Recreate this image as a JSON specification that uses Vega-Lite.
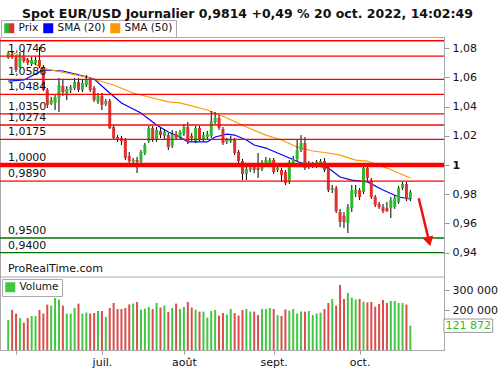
{
"$schema": "https://vega.github.io/schema/vega-lite/v6.json",
"width": 444, "height": 313,
"autosize": {"type": "none"},
"padding": {"left": 0, "top": 37, "right": 56, "bottom": 20},
"background": "white",
"config": {"font": "DejaVu Sans", "view": {"stroke": "#aaaaaa"}, "axis": {"labelFont": "DejaVu Sans", "labelFontSize": 11, "labelColor": "#111111", "grid": false, "domainColor": "#aaaaaa", "tickColor": "#999999"}},
"title": {"text": "Spot EUR/USD Journalier 0,9814 +0,49 % 20 oct. 2022, 14:02:49", "anchor": "start", "frame": "group", "dx": 22, "offset": -10.5, "fontSize": 12.5, "fontWeight": "bold", "font": "DejaVu Sans", "color": "#111111", "baseline": "alphabetic"},
"datasets": {
"bars": [
{"date":"2022-05-30","i":0,"o":1.0733,"h":1.0781,"l":1.0726,"c":1.0767,"v":150000},
{"date":"2022-05-31","i":1,"o":1.0760,"h":1.0774,"l":1.0726,"c":1.0740,"v":200000},
{"date":"2022-06-01","i":2,"o":1.0740,"h":1.0753,"l":1.0637,"c":1.0651,"v":182000},
{"date":"2022-06-02","i":3,"o":1.0671,"h":1.0774,"l":1.0664,"c":1.0747,"v":160000},
{"date":"2022-06-03","i":4,"o":1.0740,"h":1.0788,"l":1.0699,"c":1.0712,"v":137000},
{"date":"2022-06-06","i":5,"o":1.0719,"h":1.0733,"l":1.0685,"c":1.0699,"v":160000},
{"date":"2022-06-07","i":6,"o":1.0692,"h":1.0740,"l":1.0678,"c":1.0719,"v":170000},
{"date":"2022-06-08","i":7,"o":1.0699,"h":1.0740,"l":1.0685,"c":1.0719,"v":170000},
{"date":"2022-06-09","i":8,"o":1.0719,"h":1.0808,"l":1.0664,"c":1.0678,"v":200000},
{"date":"2022-06-10","i":9,"o":1.0671,"h":1.0685,"l":1.0507,"c":1.0514,"v":182000},
{"date":"2022-06-13","i":10,"o":1.0514,"h":1.0527,"l":1.0390,"c":1.0411,"v":227000},
{"date":"2022-06-14","i":11,"o":1.0418,"h":1.0466,"l":1.0411,"c":1.0445,"v":222000},
{"date":"2022-06-15","i":12,"o":1.0425,"h":1.0479,"l":1.0377,"c":1.0466,"v":260000},
{"date":"2022-06-16","i":13,"o":1.0459,"h":1.0596,"l":1.0363,"c":1.0548,"v":252000},
{"date":"2022-06-17","i":14,"o":1.0541,"h":1.0582,"l":1.0473,"c":1.0500,"v":222000},
{"date":"2022-06-20","i":15,"o":1.0479,"h":1.0541,"l":1.0445,"c":1.0521,"v":182000},
{"date":"2022-06-21","i":16,"o":1.0514,"h":1.0548,"l":1.0493,"c":1.0534,"v":182000},
{"date":"2022-06-22","i":17,"o":1.0527,"h":1.0596,"l":1.0514,"c":1.0568,"v":210000},
{"date":"2022-06-23","i":18,"o":1.0568,"h":1.0596,"l":1.0500,"c":1.0514,"v":232000},
{"date":"2022-06-24","i":19,"o":1.0514,"h":1.0582,"l":1.0500,"c":1.0562,"v":182000},
{"date":"2022-06-27","i":20,"o":1.0548,"h":1.0616,"l":1.0534,"c":1.0582,"v":187000},
{"date":"2022-06-28","i":21,"o":1.0582,"h":1.0596,"l":1.0500,"c":1.0514,"v":182000},
{"date":"2022-06-29","i":22,"o":1.0527,"h":1.0541,"l":1.0432,"c":1.0445,"v":185000},
{"date":"2022-06-30","i":23,"o":1.0432,"h":1.0493,"l":1.0418,"c":1.0473,"v":195000},
{"date":"2022-07-01","i":24,"o":1.0473,"h":1.0493,"l":1.0377,"c":1.0411,"v":195000},
{"date":"2022-07-04","i":25,"o":1.0418,"h":1.0452,"l":1.0404,"c":1.0438,"v":165000},
{"date":"2022-07-05","i":26,"o":1.0438,"h":1.0452,"l":1.0247,"c":1.0253,"v":210000},
{"date":"2022-07-06","i":27,"o":1.0260,"h":1.0274,"l":1.0171,"c":1.0185,"v":235000},
{"date":"2022-07-07","i":28,"o":1.0192,"h":1.0205,"l":1.0158,"c":1.0171,"v":205000},
{"date":"2022-07-08","i":29,"o":1.0185,"h":1.0199,"l":1.0137,"c":1.0164,"v":205000},
{"date":"2022-07-11","i":30,"o":1.0171,"h":1.0185,"l":1.0034,"c":1.0048,"v":210000},
{"date":"2022-07-12","i":31,"o":1.0062,"h":1.0089,"l":1.0014,"c":1.0027,"v":228000},
{"date":"2022-07-13","i":32,"o":1.0021,"h":1.0048,"l":1.0014,"c":1.0034,"v":232000},
{"date":"2022-07-14","i":33,"o":1.0034,"h":1.0055,"l":0.9945,"c":1.0021,"v":240000},
{"date":"2022-07-15","i":34,"o":1.0021,"h":1.0103,"l":1.0007,"c":1.0089,"v":202000},
{"date":"2022-07-18","i":35,"o":1.0082,"h":1.0151,"l":1.0068,"c":1.0137,"v":207000},
{"date":"2022-07-19","i":36,"o":1.0164,"h":1.0267,"l":1.0151,"c":1.0253,"v":215000},
{"date":"2022-07-20","i":37,"o":1.0253,"h":1.0267,"l":1.0158,"c":1.0171,"v":205000},
{"date":"2022-07-21","i":38,"o":1.0171,"h":1.0260,"l":1.0158,"c":1.0240,"v":235000},
{"date":"2022-07-22","i":39,"o":1.0233,"h":1.0253,"l":1.0185,"c":1.0205,"v":212000},
{"date":"2022-07-25","i":40,"o":1.0199,"h":1.0247,"l":1.0171,"c":1.0226,"v":222000},
{"date":"2022-07-26","i":41,"o":1.0205,"h":1.0219,"l":1.0103,"c":1.0123,"v":190000},
{"date":"2022-07-27","i":42,"o":1.0130,"h":1.0240,"l":1.0116,"c":1.0212,"v":210000},
{"date":"2022-07-28","i":43,"o":1.0212,"h":1.0233,"l":1.0171,"c":1.0185,"v":232000},
{"date":"2022-07-29","i":44,"o":1.0192,"h":1.0240,"l":1.0178,"c":1.0226,"v":205000},
{"date":"2022-08-01","i":45,"o":1.0212,"h":1.0281,"l":1.0199,"c":1.0260,"v":215000},
{"date":"2022-08-02","i":46,"o":1.0260,"h":1.0295,"l":1.0144,"c":1.0158,"v":240000},
{"date":"2022-08-03","i":47,"o":1.0199,"h":1.0219,"l":1.0164,"c":1.0185,"v":212000},
{"date":"2022-08-04","i":48,"o":1.0164,"h":1.0267,"l":1.0151,"c":1.0253,"v":202000},
{"date":"2022-08-05","i":49,"o":1.0253,"h":1.0267,"l":1.0164,"c":1.0178,"v":192000},
{"date":"2022-08-08","i":50,"o":1.0178,"h":1.0226,"l":1.0164,"c":1.0205,"v":192000},
{"date":"2022-08-09","i":51,"o":1.0192,"h":1.0233,"l":1.0178,"c":1.0212,"v":162000},
{"date":"2022-08-10","i":52,"o":1.0199,"h":1.0370,"l":1.0185,"c":1.0301,"v":195000},
{"date":"2022-08-11","i":53,"o":1.0295,"h":1.0363,"l":1.0281,"c":1.0322,"v":200000},
{"date":"2022-08-12","i":54,"o":1.0322,"h":1.0342,"l":1.0240,"c":1.0253,"v":172000},
{"date":"2022-08-15","i":55,"o":1.0247,"h":1.0260,"l":1.0137,"c":1.0151,"v":185000},
{"date":"2022-08-16","i":56,"o":1.0158,"h":1.0185,"l":1.0144,"c":1.0171,"v":177000},
{"date":"2022-08-17","i":57,"o":1.0164,"h":1.0199,"l":1.0151,"c":1.0178,"v":205000},
{"date":"2022-08-18","i":58,"o":1.0171,"h":1.0185,"l":1.0068,"c":1.0082,"v":185000},
{"date":"2022-08-19","i":59,"o":1.0089,"h":1.0103,"l":1.0014,"c":1.0027,"v":172000},
{"date":"2022-08-22","i":60,"o":1.0027,"h":1.0041,"l":0.9897,"c":0.9938,"v":200000},
{"date":"2022-08-23","i":61,"o":0.9938,"h":1.0014,"l":0.9897,"c":0.9973,"v":205000},
{"date":"2022-08-24","i":62,"o":0.9966,"h":1.0000,"l":0.9952,"c":0.9979,"v":192000},
{"date":"2022-08-25","i":63,"o":0.9986,"h":1.0007,"l":0.9945,"c":0.9966,"v":192000},
{"date":"2022-08-26","i":64,"o":0.9979,"h":1.0082,"l":0.9911,"c":0.9966,"v":175000},
{"date":"2022-08-29","i":65,"o":0.9973,"h":1.0034,"l":0.9959,"c":1.0014,"v":205000},
{"date":"2022-08-30","i":66,"o":1.0007,"h":1.0055,"l":0.9993,"c":1.0034,"v":205000},
{"date":"2022-08-31","i":67,"o":1.0014,"h":1.0048,"l":1.0000,"c":1.0034,"v":210000},
{"date":"2022-09-01","i":68,"o":1.0034,"h":1.0048,"l":0.9938,"c":0.9952,"v":205000},
{"date":"2022-09-02","i":69,"o":0.9966,"h":0.9993,"l":0.9952,"c":0.9979,"v":175000},
{"date":"2022-09-05","i":70,"o":0.9966,"h":0.9979,"l":0.9884,"c":0.9932,"v":170000},
{"date":"2022-09-06","i":71,"o":0.9952,"h":0.9966,"l":0.9863,"c":0.9877,"v":203000},
{"date":"2022-09-07","i":72,"o":0.9884,"h":1.0034,"l":0.9870,"c":1.0021,"v":197000},
{"date":"2022-09-08","i":73,"o":1.0007,"h":1.0062,"l":0.9993,"c":1.0041,"v":205000},
{"date":"2022-09-09","i":74,"o":1.0041,"h":1.0171,"l":1.0027,"c":1.0103,"v":182000},
{"date":"2022-09-12","i":75,"o":1.0103,"h":1.0205,"l":1.0089,"c":1.0151,"v":193000},
{"date":"2022-09-13","i":76,"o":1.0151,"h":1.0192,"l":0.9966,"c":0.9979,"v":192000},
{"date":"2022-09-14","i":77,"o":0.9986,"h":1.0027,"l":0.9973,"c":1.0007,"v":195000},
{"date":"2022-09-15","i":78,"o":0.9993,"h":1.0021,"l":0.9979,"c":1.0000,"v":175000},
{"date":"2022-09-16","i":79,"o":0.9993,"h":1.0034,"l":0.9979,"c":1.0021,"v":182000},
{"date":"2022-09-19","i":80,"o":1.0000,"h":1.0041,"l":0.9986,"c":1.0027,"v":187000},
{"date":"2022-09-20","i":81,"o":1.0027,"h":1.0048,"l":0.9952,"c":0.9966,"v":205000},
{"date":"2022-09-21","i":82,"o":0.9979,"h":0.9993,"l":0.9815,"c":0.9829,"v":235000},
{"date":"2022-09-22","i":83,"o":0.9829,"h":0.9863,"l":0.9808,"c":0.9842,"v":255000},
{"date":"2022-09-23","i":84,"o":0.9842,"h":0.9856,"l":0.9671,"c":0.9685,"v":222000},
{"date":"2022-09-26","i":85,"o":0.9678,"h":0.9699,"l":0.9575,"c":0.9610,"v":325000},
{"date":"2022-09-27","i":86,"o":0.9651,"h":0.9678,"l":0.9568,"c":0.9610,"v":255000},
{"date":"2022-09-28","i":87,"o":0.9603,"h":0.9733,"l":0.9534,"c":0.9712,"v":285000},
{"date":"2022-09-29","i":88,"o":0.9705,"h":0.9863,"l":0.9678,"c":0.9829,"v":262000},
{"date":"2022-09-30","i":89,"o":0.9801,"h":0.9863,"l":0.9781,"c":0.9829,"v":252000},
{"date":"2022-10-03","i":90,"o":0.9829,"h":0.9842,"l":0.9760,"c":0.9781,"v":255000},
{"date":"2022-10-04","i":91,"o":0.9815,"h":0.9993,"l":0.9801,"c":0.9979,"v":242000},
{"date":"2022-10-05","i":92,"o":0.9979,"h":0.9993,"l":0.9890,"c":0.9911,"v":238000},
{"date":"2022-10-06","i":93,"o":0.9897,"h":0.9911,"l":0.9767,"c":0.9781,"v":240000},
{"date":"2022-10-07","i":94,"o":0.9781,"h":0.9795,"l":0.9712,"c":0.9726,"v":217000},
{"date":"2022-10-10","i":95,"o":0.9733,"h":0.9747,"l":0.9699,"c":0.9712,"v":230000},
{"date":"2022-10-11","i":96,"o":0.9712,"h":0.9733,"l":0.9671,"c":0.9685,"v":250000},
{"date":"2022-10-12","i":97,"o":0.9705,"h":0.9747,"l":0.9678,"c":0.9685,"v":235000},
{"date":"2022-10-13","i":98,"o":0.9705,"h":0.9781,"l":0.9637,"c":0.9760,"v":245000},
{"date":"2022-10-14","i":99,"o":0.9712,"h":0.9788,"l":0.9699,"c":0.9774,"v":245000},
{"date":"2022-10-17","i":100,"o":0.9747,"h":0.9856,"l":0.9733,"c":0.9842,"v":235000},
{"date":"2022-10-18","i":101,"o":0.9842,"h":0.9884,"l":0.9829,"c":0.9870,"v":235000},
{"date":"2022-10-19","i":102,"o":0.9870,"h":0.9884,"l":0.9753,"c":0.9766,"v":227000},
{"date":"2022-10-20","i":103,"o":0.9767,"h":0.9829,"l":0.9753,"c":0.9814,"v":121872}
],
"sma": [
{"series":"SMA (20)","i":0,"value":1.0575},{"series":"SMA (20)","i":4,"value":1.0582},{"series":"SMA (20)","i":9,"value":1.0651},{"series":"SMA (20)","i":14,"value":1.0644},{"series":"SMA (20)","i":19,"value":1.0610},{"series":"SMA (20)","i":22,"value":1.0589},{"series":"SMA (20)","i":26,"value":1.0493},{"series":"SMA (20)","i":29,"value":1.0425},{"series":"SMA (20)","i":34,"value":1.0356},{"series":"SMA (20)","i":38,"value":1.0274},{"series":"SMA (20)","i":41,"value":1.0226},{"series":"SMA (20)","i":44,"value":1.0192},{"series":"SMA (20)","i":46,"value":1.0158},{"series":"SMA (20)","i":51,"value":1.0158},{"series":"SMA (20)","i":53,"value":1.0192},{"series":"SMA (20)","i":56,"value":1.0212},{"series":"SMA (20)","i":58,"value":1.0205},{"series":"SMA (20)","i":61,"value":1.0171},{"series":"SMA (20)","i":63,"value":1.0137},{"series":"SMA (20)","i":66,"value":1.0116},{"series":"SMA (20)","i":69,"value":1.0082},{"series":"SMA (20)","i":72,"value":1.0048},{"series":"SMA (20)","i":75,"value":1.0014},{"series":"SMA (20)","i":78,"value":1.0000},{"series":"SMA (20)","i":82,"value":0.9979},{"series":"SMA (20)","i":85,"value":0.9918},{"series":"SMA (20)","i":88,"value":0.9897},{"series":"SMA (20)","i":92,"value":0.9884},{"series":"SMA (20)","i":96,"value":0.9829},{"series":"SMA (20)","i":100,"value":0.9781},{"series":"SMA (20)","i":103,"value":0.9767},
{"series":"SMA (50)","i":0,"value":1.0780},{"series":"SMA (50)","i":2,"value":1.0760},{"series":"SMA (50)","i":9,"value":1.0662},{"series":"SMA (50)","i":20,"value":1.0603},{"series":"SMA (50)","i":27,"value":1.0548},{"series":"SMA (50)","i":32,"value":1.0493},{"series":"SMA (50)","i":36,"value":1.0466},{"series":"SMA (50)","i":41,"value":1.0432},{"series":"SMA (50)","i":44,"value":1.0425},{"series":"SMA (50)","i":51,"value":1.0377},{"series":"SMA (50)","i":56,"value":1.0322},{"series":"SMA (50)","i":61,"value":1.0260},{"series":"SMA (50)","i":66,"value":1.0205},{"series":"SMA (50)","i":70,"value":1.0171},{"series":"SMA (50)","i":74,"value":1.0123},{"series":"SMA (50)","i":78,"value":1.0096},{"series":"SMA (50)","i":82,"value":1.0082},{"series":"SMA (50)","i":85,"value":1.0068},{"series":"SMA (50)","i":89,"value":1.0034},{"series":"SMA (50)","i":92,"value":1.0027},{"series":"SMA (50)","i":97,"value":0.9979},{"series":"SMA (50)","i":103,"value":0.9911}
],
"levels": [
{"level":1.0851,"label":""},{"level":1.0746,"label":"1,0746"},{"level":1.0586,"label":"1,0586"},{"level":1.0484,"label":"1,0484"},{"level":1.0350,"label":"1,0350"},{"level":1.0274,"label":"1,0274"},{"level":1.0175,"label":"1,0175"},{"level":1.0,"label":"1,0000"},{"level":0.9890,"label":"0,9890"},{"level":0.9500,"label":"0,9500"},{"level":0.9400,"label":"0,9400"}
]
},
"layer": [
{"data": {"name": "bars"}, "mark": {"type": "bar", "size": 2},
 "encoding": {
  "x": {"field": "i", "type": "quantitative", "scale": {"domain": [-0.826, 110.34], "nice": false, "zero": false},
   "axis": {"orient": "bottom", "title": null, "values": [2, 24, 45, 68, 90], "labelExpr": "datum.value == 24 ? 'juil.' : datum.value == 45 ? 'août' : datum.value == 68 ? 'sept.' : datum.value == 90 ? 'oct.' : ''", "tickSize": 4, "labelPadding": 2, "labelFlush": false, "labelOverlap": false, "domainColor": "#aaaaaa"}},
  "y": {"field": "v", "type": "quantitative", "scale": {"domain": [0, 365000], "range": [313, 240], "nice": false, "zero": false},
   "axis": {"orient": "right", "title": null, "values": [200000, 300000], "labelExpr": "replace(format(datum.value, ',d'), ',', ' ')", "tickSize": 5, "labelPadding": 3, "domainColor": "#aaaaaa"}},
  "color": {"condition": {"test": "datum.c >= datum.o", "value": "#40c840"}, "value": "#dc4c4c"}
 }},
{"data": {"name": "levels"}, "mark": {"type": "rule"},
 "encoding": {
  "y": {"field": "level", "type": "quantitative", "scale": {"domain": [0.92329, 1.08767], "range": [240, 0], "nice": false, "zero": false},
   "axis": {"orient": "right", "title": null, "values": [0.94, 0.96, 0.98, 1, 1.02, 1.04, 1.06, 1.08], "labelExpr": "datum.value > 0.999 && datum.value < 1.001 ? '1' : replace(format(datum.value, '.2f'), '.', ',')", "labelFontWeight": {"condition": {"test": "datum.value > 0.999 && datum.value < 1.001", "value": "bold"}, "value": "normal"}, "tickSize": 5, "labelPadding": 3, "domainColor": "#aaaaaa"}},
  "color": {"value": "#ffffff"},
  "opacity": {"value": 0}
 }},
{"data": {"name": "sma"}, "mark": {"type": "line", "strokeWidth": 1.2},
 "encoding": {
  "x": {"field": "i", "type": "quantitative", "scale": {"domain": [-0.826, 110.34], "nice": false, "zero": false}},
  "y": {"field": "value", "type": "quantitative", "scale": {"domain": [0.92329, 1.08767], "range": [240, 0], "nice": false, "zero": false}, "axis": null},
  "color": {"field": "series", "type": "nominal", "scale": {"domain": ["Prix", "SMA (20)", "SMA (50)"], "range": ["#2eb82e", "#0000ff", "#ff9900"]},
   "legend": {"orient": "none", "legendX": 1, "legendY": -17, "direction": "horizontal", "title": null, "symbolType": "square", "symbolSize": 100, "labelFontSize": 10.5, "labelFont": "DejaVu Sans", "labelColor": "#111111", "strokeColor": "#aaaaaa", "padding": 3, "columnPadding": 4, "gridAlign": "none", "labelOffset": 4,
    "encode": {"symbols": {"update": {"fill": [{"test": "datum.value === 'Prix'", "value": {"gradient": "linear", "x1": 0, "y1": 0, "x2": 1, "y2": 0, "stops": [{"offset": 0, "color": "#2eb82e"}, {"offset": 0.5, "color": "#2eb82e"}, {"offset": 0.5, "color": "#e03030"}, {"offset": 1, "color": "#e03030"}]}}, {"test": "datum.value === 'SMA (20)'", "value": "#0000ff"}, {"value": "#ff9900"}], "strokeWidth": {"value": 0}, "opacity": {"value": 1}}}}}}
 }},
{"data": {"name": "bars"}, "mark": {"type": "rule", "color": "#000000", "strokeWidth": 1},
 "encoding": {
  "x": {"field": "i", "type": "quantitative", "scale": {"domain": [-0.826, 110.34], "nice": false, "zero": false}},
  "y": {"field": "l", "type": "quantitative", "scale": {"domain": [0.92329, 1.08767], "range": [240, 0], "nice": false, "zero": false}, "axis": null},
  "y2": {"field": "h"}
 }},
{"data": {"name": "bars"}, "mark": {"type": "bar", "size": 3},
 "encoding": {
  "x": {"field": "i", "type": "quantitative", "scale": {"domain": [-0.826, 110.34], "nice": false, "zero": false}},
  "y": {"field": "o", "type": "quantitative", "scale": {"domain": [0.92329, 1.08767], "range": [240, 0], "nice": false, "zero": false}, "axis": null},
  "y2": {"field": "c"},
  "color": {"condition": {"test": "datum.c >= datum.o", "value": "#2eb82e"}, "value": "#e03030"}
 }},
{"data": {"name": "levels"}, "mark": {"type": "rule"},
 "encoding": {
  "y": {"field": "level", "type": "quantitative", "scale": {"domain": [0.92329, 1.08767], "range": [240, 0], "nice": false, "zero": false}, "axis": null},
  "color": {"condition": {"test": "datum.level < 0.97", "value": "#007000"}, "value": "#ff0000"},
  "strokeWidth": {"condition": {"test": "datum.level == 1", "value": 4.5}, "value": 1.3}
 }},
{"data": {"name": "levels"}, "transform": [{"filter": "datum.label != ''"}],
 "mark": {"type": "text", "align": "left", "baseline": "bottom", "dx": 2, "dy": -2, "fontSize": 11, "font": "DejaVu Sans", "color": "#111111"},
 "encoding": {
  "x": {"datum": -0.6, "type": "quantitative", "scale": {"domain": [-0.826, 110.34], "nice": false, "zero": false}},
  "y": {"field": "level", "type": "quantitative", "scale": {"domain": [0.92329, 1.08767], "range": [240, 0], "nice": false, "zero": false}, "axis": null},
  "text": {"field": "label"}
 }},
{"data": {"values": [{"t": "ProRealTime.com"}]},
 "mark": {"type": "text", "align": "left", "baseline": "bottom", "dx": 2, "dy": -3, "fontSize": 11, "font": "DejaVu Sans", "color": "#111111"},
 "encoding": {
  "x": {"datum": -0.6, "type": "quantitative", "scale": {"domain": [-0.826, 110.34], "nice": false, "zero": false}},
  "y": {"datum": 0.92329, "type": "quantitative", "scale": {"domain": [0.92329, 1.08767], "range": [240, 0], "nice": false, "zero": false}, "axis": null},
  "text": {"field": "t"}
 }},
{"data": {"values": [{"a": 1}]}, "mark": {"type": "rule", "color": "#ee1111", "strokeWidth": 2.5},
 "encoding": {
  "x": {"datum": 105.15, "type": "quantitative", "scale": {"domain": [-0.826, 110.34], "nice": false, "zero": false}},
  "x2": {"datum": 107.6},
  "y": {"datum": 0.9772, "type": "quantitative", "scale": {"domain": [0.92329, 1.08767], "range": [240, 0], "nice": false, "zero": false}, "axis": null},
  "y2": {"datum": 0.9500}
 }},
{"data": {"values": [{"a": 1}]}, "mark": {"type": "point", "shape": "triangle-down", "filled": true, "size": 121, "angle": 346, "color": "#ee1111", "opacity": 1},
 "encoding": {
  "x": {"datum": 107.8, "type": "quantitative", "scale": {"domain": [-0.826, 110.34], "nice": false, "zero": false}},
  "y": {"datum": 0.9476, "type": "quantitative", "scale": {"domain": [0.92329, 1.08767], "range": [240, 0], "nice": false, "zero": false}, "axis": null}
 }},
{"data": {"values": [{"a": 1}]}, "mark": {"type": "rule", "color": "#aaaaaa", "strokeWidth": 1},
 "encoding": {
  "y": {"datum": 365000, "type": "quantitative", "scale": {"domain": [0, 365000], "range": [313, 240], "nice": false, "zero": false}, "axis": null}
 }},
{"data": {"values": [{"a": 1}]}, "mark": {"type": "rect", "fill": "#ffffff", "stroke": "#9a9a9a", "strokeWidth": 1},
 "encoding": {
  "x": {"datum": 111.6, "type": "quantitative", "scale": {"domain": [-0.826, 110.34], "nice": false, "zero": false}},
  "x2": {"datum": 124.1},
  "y": {"datum": 155000, "type": "quantitative", "scale": {"domain": [0, 365000], "range": [313, 240], "nice": false, "zero": false}, "axis": null},
  "y2": {"datum": 88000}
 }},
{"data": {"values": [{"t": "121 872"}]}, "mark": {"type": "text", "align": "center", "baseline": "middle", "fontSize": 11, "font": "DejaVu Sans", "color": "#2ebb2e"},
 "encoding": {
  "x": {"datum": 117.85, "type": "quantitative", "scale": {"domain": [-0.826, 110.34], "nice": false, "zero": false}},
  "y": {"datum": 121872, "type": "quantitative", "scale": {"domain": [0, 365000], "range": [313, 240], "nice": false, "zero": false}, "axis": null},
  "text": {"field": "t"}
 }},
{"data": {"values": [{"a": 1}]}, "mark": {"type": "point", "filled": true, "opacity": 0, "shape": "square"},
 "encoding": {
  "x": {"datum": 0, "type": "quantitative", "scale": {"domain": [-0.826, 110.34], "nice": false, "zero": false}},
  "y": {"datum": 300000, "type": "quantitative", "scale": {"domain": [0, 365000], "range": [313, 240], "nice": false, "zero": false}, "axis": null},
  "color": {"datum": "Volume", "type": "nominal", "scale": {"domain": ["Volume"], "range": ["#40c840"]},
   "legend": {"orient": "none", "legendX": 2, "legendY": 242, "title": null, "symbolType": "square", "symbolSize": 100, "labelFontSize": 10.5, "labelFont": "DejaVu Sans", "labelColor": "#111111", "strokeColor": "#aaaaaa", "padding": 3, "labelOffset": 4, "symbolOpacity": 1,
    "encode": {"symbols": {"update": {"fill": {"value": {"gradient": "linear", "x1": 0, "y1": 0, "x2": 1, "y2": 0, "stops": [{"offset": 0, "color": "#40c840"}, {"offset": 0.5, "color": "#40c840"}, {"offset": 0.5, "color": "#dc4c4c"}, {"offset": 1, "color": "#dc4c4c"}]}}, "strokeWidth": {"value": 0}, "opacity": {"value": 1}}}}}}
 }}
],
"resolve": {"scale": {"y": "independent", "color": "independent"}, "axis": {"y": "independent"}, "legend": {"color": "independent"}}
}
